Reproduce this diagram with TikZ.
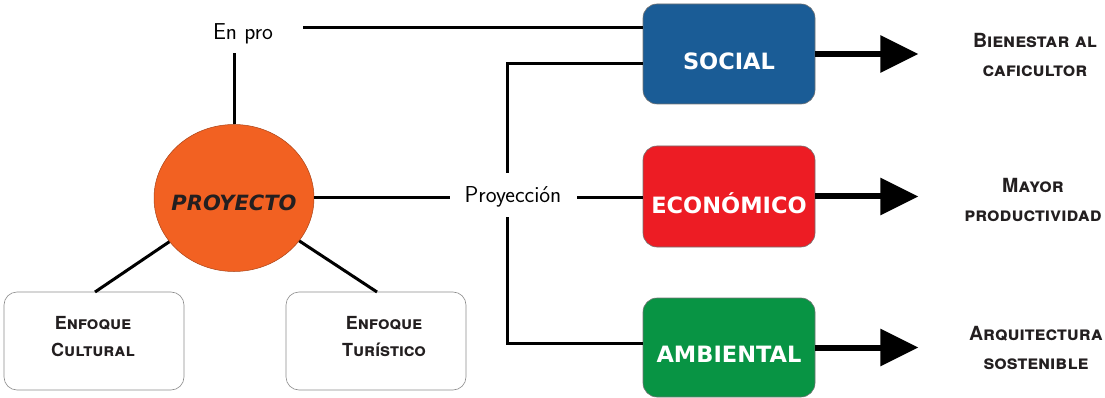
\documentclass[tikz,border=0pt]{standalone}
\usepackage{fontspec}
\setmainfont{DejaVu Sans}
\newfontfamily\scfont{TeX Gyre Heros}
\usetikzlibrary{arrows.meta,shapes.geometric}
\definecolor{socialblue}{HTML}{1A5C96}
\definecolor{econred}{HTML}{ED1C24}
\definecolor{ambgreen}{HTML}{089444}
\definecolor{proorange}{HTML}{F26122}
\definecolor{protext}{HTML}{231F20}
\begin{document}
\begin{tikzpicture}[x=1pt,y=-1pt,
  catbox/.style={rounded corners=14pt, minimum width=172pt, minimum height=100pt,
    draw=black!55, line width=0.6pt, inner sep=0pt},
  cattext/.style={text=white, inner sep=0pt, font=\bfseries\fontsize{22.5}{24}\selectfont},
  focusbox/.style={rounded corners=13pt, minimum width=180pt, minimum height=98pt,
    draw=black!45, line width=0.6pt},
  focustext/.style={align=center, inner sep=0pt, text=protext,
    font=\scfont\bfseries\scshape\fontsize{18}{27}\selectfont},
  link/.style={line width=3pt},
  bigarrow/.style={line width=6pt, -{Triangle[length=38pt,width=36pt]}},
  outlabel/.style={align=center, inner sep=0pt, text=protext,
    font=\scfont\bfseries\scshape\fontsize{19.5}{29}\selectfont},
  handlabel/.style={font=\sffamily\fontsize{23}{24}\selectfont, inner sep=0pt}
]
\useasboundingbox (0,0) rectangle (1105,398);

% central ellipse
\node[ellipse, fill=proorange, draw=proorange!70!black, line width=0.5pt,
      minimum width=160pt, minimum height=147pt, inner sep=0pt] (pro) at (234,198) {};
\node[inner sep=0pt, text=protext, font=\bfseries\itshape\fontsize{21}{23}\selectfont]
  (protxt) at ([yshift=-5pt]pro.center) {PROYECTO};

% category boxes
\node[catbox, fill=socialblue] (social) at (729,54) {};
\node[cattext] (socialtxt) at ([yshift=-7pt]social.center) {SOCIAL};
\node[catbox, fill=econred, minimum height=101pt] (econ) at (729,196.5) {};
\node[cattext] (econtxt) at ([yshift=-7pt]econ.center) {ECONÓMICO};
\node[catbox, fill=ambgreen, minimum height=99pt] (amb) at (729,347.5) {};
\node[cattext] (ambtxt) at ([yshift=-7pt]amb.center) {AMBIENTAL};

% focus boxes
\node[focusbox] (cult) at (94,341) {};
\node[focustext] (culttxt) at (93,337) {Enfoque\\Cultural};
\node[focusbox] (tur) at (376,341) {};
\node[focustext] (turtxt) at (384,337) {Enfoque\\Turístico};

% hand labels
\node[handlabel] (enpro) at (243,34) {En pro};
\node[handlabel] (proy) at (513,197) {Proyección};

% out labels
\node[outlabel] (out1) at (1035,55) {Bienestar al\\caficultor};
\node[outlabel] (out2) at (1033,200) {Mayor\\productividad};
\node[outlabel] (out3) at (1036,348) {Arquitectura\\sostenible};

% coordinates
\coordinate (enbot) at (234,53);
\coordinate (enline) at (303,28);
\coordinate (bt) at (507,64);
\coordinate (bg1) at (507,173);
\coordinate (bg2) at (507,217);
\coordinate (bb) at (507,343);
\coordinate (pl) at (450,198);
\coordinate (pr) at (577,198);
\coordinate (c1) at (95,292);
\coordinate (c2) at (377,292);

% connectors
\draw[link] (pro.north) -- (enbot);
\draw[link] (enline) -- (enline -| social.west);
\draw[link] (pro.east) -- (pl);
\draw[link] (pr) -- (pr -| econ.west);
\draw[link] (social.west |- bt) -- (bt) -- (bg1);
\draw[link] (bg2) -- (bb) -- (bb -| amb.west);
\draw[link] (pro) -- (c1);
\draw[link] (pro) -- (c2);

% arrows
\draw[bigarrow] (social.east) -- ++(103,0);
\draw[bigarrow] (econ.east) -- ++(103,0);
\draw[bigarrow] (amb.east) -- ++(103,0);
\end{tikzpicture}
\end{document}
